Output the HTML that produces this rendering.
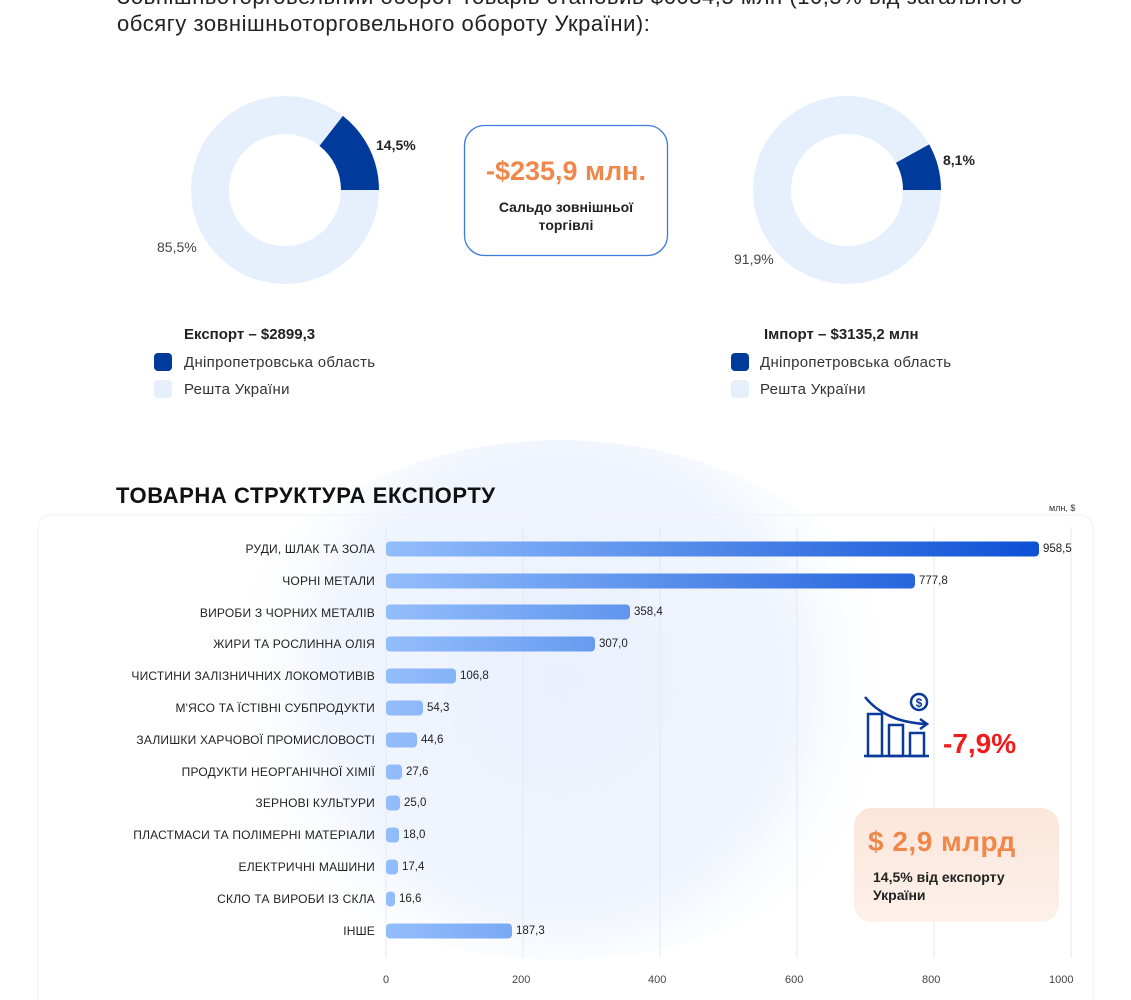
<!DOCTYPE html>
<html><head><meta charset="utf-8"><style>
html,body{margin:0;padding:0;background:#fff}
body{width:1131px;height:1000px;position:relative;overflow:hidden;font-family:"Liberation Sans",sans-serif}
.t{position:absolute;white-space:nowrap}
</style></head><body>
<svg width="1131" height="1000" style="position:absolute;left:0;top:0">
<defs>
<linearGradient id="g" gradientUnits="userSpaceOnUse" x1="386" y1="0" x2="1045" y2="0">
<stop offset="0" stop-color="#93befc"/><stop offset="1" stop-color="#0b4fd4"/></linearGradient>
<radialGradient id="bg" cx="560" cy="680" r="340" gradientUnits="userSpaceOnUse">
<stop offset="0" stop-color="#eaf1fd"/><stop offset="0.7" stop-color="#f1f5fd"/><stop offset="1" stop-color="#ffffff" stop-opacity="0"/></radialGradient>
<linearGradient id="og" x1="0" y1="0" x2="0" y2="1"><stop offset="0" stop-color="#fbe6da"/><stop offset="1" stop-color="#fdf1ea"/></linearGradient>
</defs>
<ellipse cx="560" cy="700" rx="350" ry="260" fill="url(#bg)"/>
<rect x="38" y="515" width="1055" height="500" rx="12" fill="none" stroke="#f0f2f6" stroke-width="1"/>
<circle cx="285" cy="190" r="75" fill="none" stroke="#e6f0fd" stroke-width="38"/>
<path d="M379 190 A94 94 0 0 0 342.9 115.9 L319.5 145.9 A56 56 0 0 1 341 190Z" fill="#003a9b"/>
<circle cx="847" cy="190" r="75" fill="none" stroke="#e6f0fd" stroke-width="38"/>
<path d="M941 190 A94 94 0 0 0 929.2 144.4 L896 162.8 A56 56 0 0 1 903 190Z" fill="#003a9b"/>
<rect x="464.5" y="125.5" width="203" height="130" rx="20" fill="#fff" stroke="#3b7be0" stroke-width="1.3"/>
<rect x="154" y="353" width="18" height="18" rx="4" fill="#003a9b"/>
<rect x="154" y="380" width="18" height="18" rx="4" fill="#e6f0fd"/>
<rect x="731" y="353" width="18" height="18" rx="4" fill="#003a9b"/>
<rect x="731" y="380" width="18" height="18" rx="4" fill="#e6f0fd"/>
<g stroke="#e4e8ef" stroke-width="1">
<line x1="386" y1="527" x2="386" y2="958"/><line x1="523" y1="527" x2="523" y2="958"/>
<line x1="660" y1="527" x2="660" y2="958"/><line x1="797" y1="527" x2="797" y2="958"/>
<line x1="934" y1="527" x2="934" y2="958"/><line x1="1071" y1="527" x2="1071" y2="958"/>
</g>
<g fill="url(#g)">
<rect x="386" y="541.5" width="653" height="15" rx="4"/>
<rect x="386" y="573.5" width="529" height="15" rx="4"/>
<rect x="386" y="604.5" width="244" height="15" rx="4"/>
<rect x="386" y="636.5" width="209" height="15" rx="4"/>
<rect x="386" y="668.5" width="70" height="15" rx="4"/>
<rect x="386" y="700.5" width="37" height="15" rx="4"/>
<rect x="386" y="732.5" width="31" height="15" rx="4"/>
<rect x="386" y="764.5" width="16" height="15" rx="4"/>
<rect x="386" y="795.5" width="14" height="15" rx="4"/>
<rect x="386" y="827.5" width="13" height="15" rx="4"/>
<rect x="386" y="859.5" width="12" height="15" rx="4"/>
<rect x="386" y="891.5" width="9" height="15" rx="4"/>
<rect x="386" y="923.5" width="126" height="15" rx="4"/>
</g>
<g fill="none" stroke="#0b3a9b" stroke-width="2.5">
<path d="M865 697 Q885 722 926 724"/><path d="M920 719 L927 724 L920 729"/>
<rect x="868" y="714" width="14" height="42"/><rect x="889" y="725" width="14" height="31"/><rect x="910" y="733" width="14" height="23"/>
<line x1="864" y1="756" x2="929" y2="756"/>
<circle cx="919" cy="702" r="8"/>
</g>
<text x="919" y="707" font-size="12" font-weight="bold" fill="#0b3a9b" text-anchor="middle" font-family="Liberation Sans">$</text>
<rect x="854" y="808" width="205" height="114" rx="18" fill="url(#og)"/>
</svg>
<div class="t" style="left:117px;top:-17px;font-size:22px;letter-spacing:0.55px;color:#222;line-height:27px">Зовнішньоторговельний оборот товарів становив $6034,5 млн (10,5% від загального<br>обсягу зовнішньоторговельного обороту України):</div>
<div class="t" style="left:376px;top:137px;font-size:14px;font-weight:bold;color:#222">14,5%</div>
<div class="t" style="left:157px;top:239px;font-size:14px;color:#444">85,5%</div>
<div class="t" style="left:943px;top:152px;font-size:14px;font-weight:bold;color:#222">8,1%</div>
<div class="t" style="left:734px;top:251px;font-size:14px;color:#444">91,9%</div>
<div class="t" style="left:464px;top:156px;width:204px;text-align:center;font-size:27px;font-weight:bold;color:#f0874a">-$235,9 млн.</div>
<div class="t" style="left:464px;top:198px;width:204px;text-align:center;font-size:14px;font-weight:bold;color:#222;line-height:18px">Сальдо зовнішньої<br>торгівлі</div>
<div class="t" style="left:184px;top:326px;font-size:15px;font-weight:bold;color:#222">Експорт – $2899,3</div>
<div class="t" style="left:184px;top:354px;font-size:15px;letter-spacing:0.3px;color:#333">Дніпропетровська область</div>
<div class="t" style="left:184px;top:381px;font-size:15px;letter-spacing:0.3px;color:#333">Решта України</div>
<div class="t" style="left:764px;top:326px;font-size:15px;font-weight:bold;color:#222">Імпорт – $3135,2 млн</div>
<div class="t" style="left:760px;top:354px;font-size:15px;letter-spacing:0.3px;color:#333">Дніпропетровська область</div>
<div class="t" style="left:760px;top:381px;font-size:15px;letter-spacing:0.3px;color:#333">Решта України</div>
<div class="t" style="left:116px;top:483px;font-size:22px;letter-spacing:0.6px;font-weight:bold;color:#111">ТОВАРНА СТРУКТУРА ЕКСПОРТУ</div>
<div class="t" style="left:1049px;top:503px;font-size:9px;color:#333">млн, $</div>
<div style="position:absolute;left:0;top:534px;width:375px;text-align:right;font-size:12px;letter-spacing:0.2px;color:#222;line-height:31.8px">
РУДИ, ШЛАК ТА ЗОЛА<br>ЧОРНІ МЕТАЛИ<br>ВИРОБИ З ЧОРНИХ МЕТАЛІВ<br>ЖИРИ ТА РОСЛИННА ОЛІЯ<br>ЧИСТИНИ ЗАЛІЗНИЧНИХ ЛОКОМОТИВІВ<br>М'ЯСО ТА ЇСТІВНІ СУБПРОДУКТИ<br>ЗАЛИШКИ ХАРЧОВОЇ ПРОМИСЛОВОСТІ<br>ПРОДУКТИ НЕОРГАНІЧНОЇ ХІМІЇ<br>ЗЕРНОВІ КУЛЬТУРИ<br>ПЛАСТМАСИ ТА ПОЛІМЕРНІ МАТЕРІАЛИ<br>ЕЛЕКТРИЧНІ МАШИНИ<br>СКЛО ТА ВИРОБИ ІЗ СКЛА<br>ІНШЕ</div>
<div style="font-size:11.5px;color:#222">
<div class="t" style="left:1043px;top:543px">958,5</div>
<div class="t" style="left:919px;top:575px">777,8</div>
<div class="t" style="left:634px;top:606px">358,4</div>
<div class="t" style="left:599px;top:638px">307,0</div>
<div class="t" style="left:460px;top:670px">106,8</div>
<div class="t" style="left:427px;top:702px">54,3</div>
<div class="t" style="left:421px;top:734px">44,6</div>
<div class="t" style="left:406px;top:766px">27,6</div>
<div class="t" style="left:404px;top:797px">25,0</div>
<div class="t" style="left:403px;top:829px">18,0</div>
<div class="t" style="left:402px;top:861px">17,4</div>
<div class="t" style="left:399px;top:893px">16,6</div>
<div class="t" style="left:516px;top:925px">187,3</div>
</div>
<div style="font-size:11px;color:#444">
<div class="t" style="left:383px;top:974px">0</div>
<div class="t" style="left:512px;top:974px">200</div>
<div class="t" style="left:648px;top:974px">400</div>
<div class="t" style="left:785px;top:974px">600</div>
<div class="t" style="left:922px;top:974px">800</div>
<div class="t" style="left:1049px;top:974px">1000</div>
</div>
<div class="t" style="left:943px;top:728px;font-size:28px;font-weight:bold;color:#ee1c1c">-7,9%</div>
<div class="t" style="left:868px;top:826px;font-size:28px;letter-spacing:0.5px;font-weight:bold;color:#f0874a">$ 2,9 млрд</div>
<div class="t" style="left:873px;top:868px;font-size:14px;font-weight:bold;color:#222;line-height:18px">14,5% від експорту<br>України</div>
</body></html>
